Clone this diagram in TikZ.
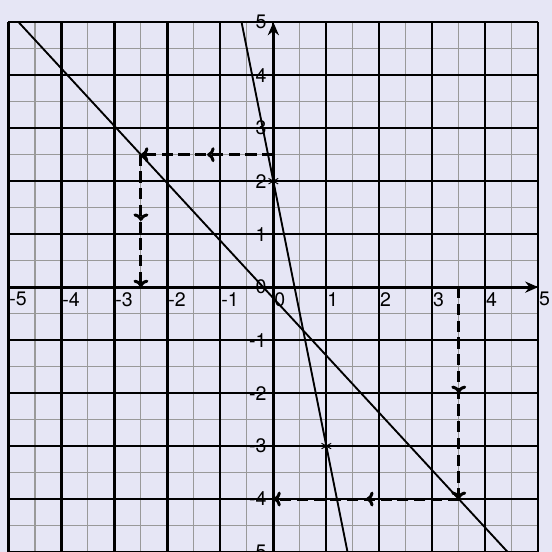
\documentclass[tikz,border=0pt]{standalone}
\usepackage{fontspec}
\setmainfont{TeX Gyre Heros}
\usepackage{tikz}
\usetikzlibrary{arrows.meta,decorations.markings,plotmarks}
\definecolor{paper}{RGB}{230,230,245}

\begin{document}
\begin{tikzpicture}[
  every node/.style={font=\fontsize{10.5}{12}\selectfont},
  minor/.style={draw=black!40, line width=0.6pt},
  major/.style={draw=black, line width=1.2pt},
  axis/.style={line width=1.6pt, -{Stealth[length=7pt, width=6pt]}},
  graph/.style={line width=1pt},
  xlab/.style={anchor=north west, inner xsep=0.3pt, inner ysep=2.5pt},
  ylab/.style={anchor=east, inner xsep=3.5pt, inner ysep=1pt},
  guide/.style={line width=1.6pt, dash pattern=on 6pt off 3pt, -{To[length=4pt, width=8pt]},
    postaction={decorate}, decoration={markings,
      mark=at position 0.5 with {\arrow{To[length=4pt, width=8pt]}}}}]
  \useasboundingbox[fill=paper] (-5.16,-5.0) rectangle (5.26,5.42);
  % grid
  \draw[minor] (-5,-5) grid[step=0.5] (5,5);
  \draw[major] (-5,-5) grid[step=1] (5,5);
  % axes
  \draw[axis] (-5,0) -- (5,0);
  \draw[axis] (0,-5) -- (0,5);
  \foreach \i in {-5,...,5} {
    \node[xlab] (x\i) at (\i,0) {\i};
    \node[ylab] (y\i) at (0,\i) {\i};
  }
  % the two lines
  \draw[graph, domain=-4.8077:4.4231] plot (\x, {-13/12*\x-5/24});
  \draw[graph, domain=-0.6:1.4] plot (\x, {-5*\x+2});
  \draw plot[only marks, mark=asterisk, mark size=3pt, mark options={line width=0.5pt}]
    coordinates {(0,2) (1,-3)};
  % reading off values
  \coordinate (a0) at (0,2.5);
  \coordinate (a1) at (-2.5,2.5);
  \coordinate (a2) at (-2.5,0);
  \coordinate (b0) at (3.5,0);
  \coordinate (b1) at (3.5,-4);
  \coordinate (b2) at (0,-4);
  \draw[guide] (a0) -- (a1);
  \draw[guide] (a1) -- (a2);
  \draw[guide] (b0) -- (b1);
  \draw[guide] (b1) -- (b2);
\end{tikzpicture}
\end{document}
